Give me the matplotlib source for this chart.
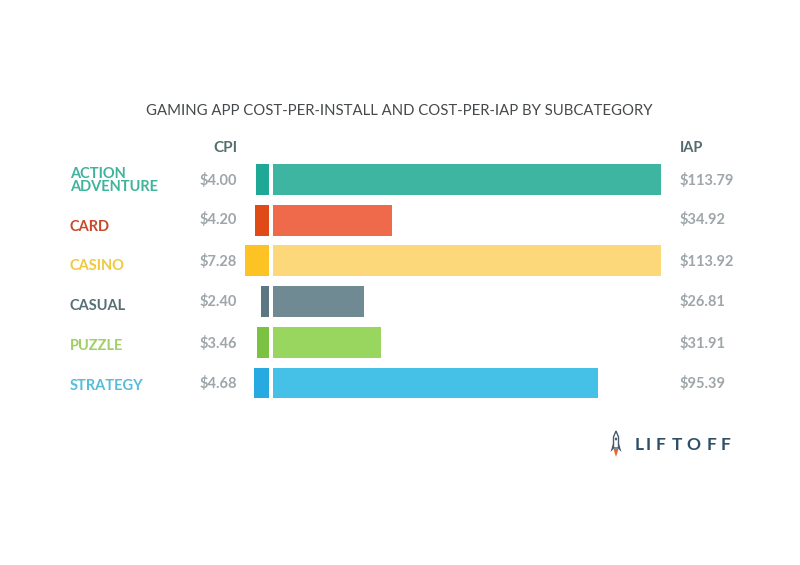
import matplotlib
matplotlib.use("Agg")
import matplotlib.pyplot as plt
from matplotlib.patches import Polygon, Ellipse

categories = ["ACTION\nADVENTURE", "CARD", "CASINO", "CASUAL", "PUZZLE", "STRATEGY"]
cpi_values = [4.00, 4.20, 7.28, 2.40, 3.46, 4.68]
iap_values = [113.79, 34.92, 113.92, 26.81, 31.91, 95.39]
cpi_colors = ["#1fa896", "#e04a17", "#fdc324", "#5b7784", "#7cc242", "#27aae1"]
iap_colors = ["#3db5a0", "#ef6a4a", "#fdd87a", "#6f8a92", "#98d65f", "#45c1e8"]
label_colors = ["#3fb39b", "#c8482a", "#f0c93f", "#566f75", "#a0cf63", "#55bcdc"]
title = "GAMING APP COST-PER-INSTALL AND COST-PER-IAP BY SUBCATEGORY"
logo_text = "LIFTOFF"

W = 800.0
H = 565.0
plt.rcParams["font.family"] = ["Lato", "DejaVu Sans"]

fig = plt.figure(figsize=(W / 100, H / 100), dpi=100, facecolor="white")

# pixel helpers, y measured from the top like in the picture
def fx(x):
    return x / W

def fy(y):
    return 1 - y / H

def make_axes(left, right):
    top = 159.15
    bottom = 403.35
    a = fig.add_axes([fx(left), fy(bottom), (right - left) / W, (bottom - top) / H])
    a.axis("off")
    a.set_ylim(5.5, -0.5)
    return a

# CPI grows to the left, IAP to the right
ax_cpi = make_axes(200, 268.5)
ax_cpi.set_xlim(68.5 / 3.2, 0)
ax_iap = make_axes(272.5, 680)
ax_iap.set_xlim(0, 407.5 / 3.41)

rows = list(range(len(categories)))
ax_cpi.barh(rows, cpi_values, height=0.76, color=cpi_colors)
ax_iap.barh(rows, iap_values, height=0.76, color=iap_colors)

# row labels
label_y = [180.5, 227, 265.5, 306.5, 346.5, 386.5]
for name, col, y in zip(categories, label_colors, label_y):
    fig.text(fx(70), fy(y), name, color=col, fontsize=10.5, fontweight="bold",
             va="center", ha="left", linespacing=0.95)

value_y = [180, 220, 261, 301, 343, 383]
for v, w, y in zip(cpi_values, iap_values, value_y):
    fig.text(fx(237), fy(y), "${:.2f}".format(v), color="#9ea6a9", fontsize=10.5,
             fontweight="bold", va="center", ha="right")
    fig.text(fx(680), fy(y), "${:.2f}".format(w), color="#9ea6a9", fontsize=10.5,
             fontweight="bold", va="center", ha="left")

fig.text(fx(237), fy(148), "CPI", color="#566d70", fontsize=11, fontweight="bold",
         va="center", ha="right")
fig.text(fx(680), fy(148), "IAP", color="#566d70", fontsize=10.5, fontweight="bold",
         va="center", ha="left")
fig.text(fx(399), fy(111), title, color="#45494b", fontsize=10.7, va="center", ha="center")

# logo
logo = fig.add_axes([0, 0, 1, 1])
logo.set_xlim(0, W)
logo.set_ylim(H, 0)
logo.axis("off")
logo.patch.set_alpha(0)
logo.add_patch(Polygon([[616, 431], [613.5, 437], [613.5, 448], [618.5, 448], [618.5, 437]],
                       closed=True, fc="white", ec="#44596b", lw=1))
logo.add_patch(Polygon([[613.5, 442], [610.5, 452], [613.5, 449]], closed=True, fc="#44596b", ec="none"))
logo.add_patch(Polygon([[618.5, 442], [621.5, 452], [618.5, 449]], closed=True, fc="#44596b", ec="none"))
logo.add_patch(Polygon([[613.5, 449], [618.5, 449], [616, 457]], closed=True, fc="#e8662f", ec="none"))
logo.add_patch(Ellipse((616, 439), 2.2, 3, fc="#44596b", ec="none"))

letter_x = [639, 648, 661, 677, 693, 712, 726]
for ch, x in zip(logo_text, letter_x):
    logo.text(x, 444.5, ch, color="#2f4f68", fontsize=12.5, fontweight="bold",
              va="center", ha="center")

fig.savefig("out.png", dpi=100, facecolor="white")
